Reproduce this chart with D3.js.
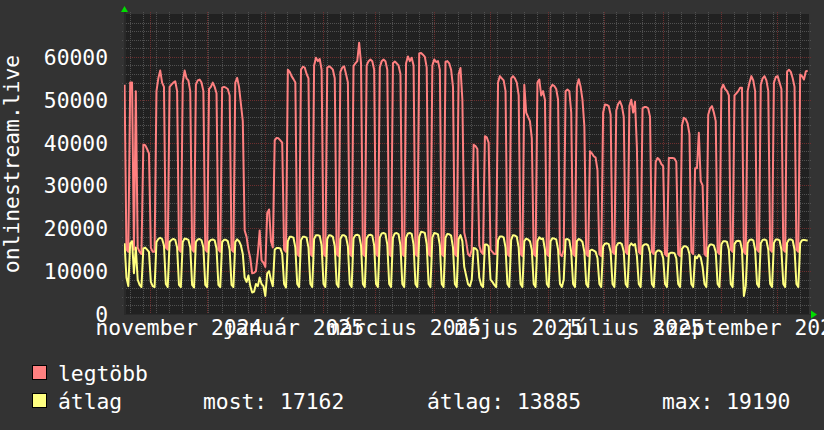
<!DOCTYPE html>
<html><head><meta charset="utf-8">
<script src="https://cdn.jsdelivr.net/npm/d3@7"></script>
<style>
html,body{margin:0;padding:0;background:#333333;}
svg{display:block;}
text{font-family:"DejaVu Sans Mono",monospace;}
</style></head><body>
<svg id="chart" width="824" height="430"></svg>
<script>
// ---- data (daily values, first day = 2024-10-18, one row per week Mon..Sun) ----
const firstDay = "2024-10-18";
const lastDay = "2025-10-18";
const legtobb = [
  53500, 15000, 14500,                              // Fri 18 Oct - Sun 20 Oct
  54000, 54000, 15000, 52000, 15500, 14500, 14000,  // 21 Oct
  39500, 39400, 38500, 37500, 15500, 14500, 14500,  // 28 Oct
  52000, 55000, 56800, 54000, 53000, 15500, 15000,  // 4 Nov
  53000, 53500, 54000, 54300, 52000, 15000, 14500,  // 11 Nov
  54000, 56800, 55000, 54500, 52000, 15000, 14500,  // 18 Nov
  53500, 54500, 54700, 54000, 52000, 15000, 14500,  // 25 Nov
  52500, 53000, 54000, 53000, 51500, 15000, 14500,  // 2 Dec
  52800, 53000, 52800, 52500, 51000, 15000, 14500,  // 9 Dec
  54000, 55100, 53000, 49000, 45000, 19500, 18000,  // 16 Dec
  15000, 13000,  9500,  9600, 10000, 14000, 19500,  // 23 Dec
  12500, 12000, 11000, 23500, 24400, 17000, 15500,  // 30 Dec
  40500, 41100, 41000, 40500, 40000, 15000, 14500,  // 6 Jan
  57000, 56500, 55500, 54800, 54000, 14000, 13500,  // 13 Jan
  57000, 57700, 57500, 56000, 55000, 14000, 13500,  // 20 Jan
  58000, 59800, 59000, 59500, 57000, 14000, 13500,  // 27 Jan
  57500, 57800, 57500, 57000, 55000, 14000, 13500,  // 3 Feb
  56500, 57500, 57800, 56000, 54000, 14000, 13500,  // 10 Feb
  57800, 58500, 59000, 63300, 58500, 14000, 13500,  // 17 Feb
  58000, 59000, 59400, 59000, 57000, 14000, 13500,  // 24 Feb
  57500, 59000, 59400, 59000, 57000, 14000, 13500,  // 3 Mar
  58500, 58900, 58500, 58000, 56000, 14000, 13500,  // 10 Mar
  58500, 60100, 59000, 59800, 58000, 14000, 13500,  // 17 Mar
  60800, 60900, 60500, 60000, 57500, 14000, 13500,  // 24 Mar
  58000, 59400, 58800, 59000, 57000, 14000, 13500,  // 31 Mar
  58800, 59000, 58500, 57000, 53000, 14000, 13500,  // 7 Apr
  56000, 57400, 50000, 19000, 17000, 14000, 13500,  // 14 Apr
  15000, 39500, 39200, 38500, 16000, 14500, 14000,  // 21 Apr
  41500, 41200, 40000, 15000, 14500, 14000, 14000,  // 28 Apr
  54000, 55500, 55000, 54500, 52000, 14000, 13500,  // 5 May
  55000, 55500, 55000, 54000, 51000, 14000, 13500,  // 12 May
  53500, 47000, 46000, 45000, 41000, 14000, 13500,  // 19 May
  54000, 54700, 51000, 52000, 50000, 14000, 13500,  // 26 May
  52800, 53500, 53200, 52500, 50000, 14000, 13500,  // 2 Jun
  15000, 52000, 52400, 52000, 47000, 14000, 13500,  // 9 Jun
  53000, 54800, 53000, 50000, 43800, 14000, 13500,  // 16 Jun
  38000, 37500, 36800, 36500, 33500, 14000, 13500,  // 23 Jun
  47000, 48900, 48800, 48500, 46500, 14500, 14000,  // 30 Jun
  47500, 49000, 49600, 48500, 46000, 14500, 14000,  // 7 Jul
  48500, 50000, 47000, 49500, 38800, 14500, 14000,  // 14 Jul
  48000, 48300, 48300, 48000, 46000, 14500, 14000,  // 21 Jul
  35500, 36400, 36000, 35000, 34500, 14000, 13500,  // 28 Jul
  36400, 36400, 36400, 36300, 35500, 14000, 13500,  // 4 Aug
  44000, 45800, 45500, 44500, 42000, 14500, 14000,  // 11 Aug
  34000, 34000, 42300, 31000, 30000, 14000, 13500,  // 18 Aug
  46500, 48000, 48500, 47000, 45000, 14500, 14000,  // 25 Aug
  52500, 53500, 52500, 52000, 51000, 15000, 14500,  // 1 Sep
  51000, 51500, 52000, 52800, 52800, 14500, 14000,  // 8 Sep
  52000, 54000, 55500, 54500, 52000, 15000, 14500,  // 15 Sep
  53500, 55000, 55500, 54500, 52000, 15000, 14500,  // 22 Sep
  54000, 55300, 55500, 54000, 52500, 15000, 14500,  // 29 Sep
  56500, 57000, 56500, 55000, 53000, 15000, 14500,  // 6 Oct
  55900, 55500, 54700, 56600, 56800                 // 13 Oct
];
const atlag = [
  16500,  8500,  6500,
  16500, 17000,  9500, 15500,  8000,  6800,  6300,
  15300, 15500, 15000, 14500,  7500,  6500,  6300,
  16800, 17500, 17800, 17500, 16000,  7000,  6300,
  16800, 17300, 17500, 17300, 15500,  6800,  6300,
  16800, 17600, 17500, 17300, 15500,  6800,  6200,
  16800, 17400, 17500, 17200, 15500,  6800,  6300,
  16800, 17300, 17400, 17200, 15300,  6800,  6300,
  16800, 17300, 17300, 17000, 15000,  6800,  6300,
  16800, 17400, 17000, 16000, 14000,  8500,  7500,
   9000,  6500,  5000,  5200,  7000,  6500,  8500,
   7000,  6500,  4200,  9500, 10000,  8000,  6500,
  15000, 15400, 15400, 15300, 14000,  7000,  6200,
  17000, 18000, 18000, 17800, 15500,  7000,  6300,
  17200, 18000, 18000, 17800, 15500,  7000,  6300,
  17500, 18400, 18400, 18200, 16000,  7000,  6300,
  17500, 18400, 18300, 18000, 15800,  7000,  6300,
  17500, 18400, 18400, 18000, 15800,  7000,  6300,
  17600, 18400, 18500, 18300, 16000,  7000,  6300,
  17600, 18400, 18500, 18300, 16000,  7000,  6300,
  17800, 18800, 18900, 18700, 16200,  7000,  6300,
  17800, 18800, 18900, 18600, 16000,  7000,  6300,
  17800, 18800, 18900, 18700, 16200,  7000,  6300,
  18000, 19190, 19100, 18900, 16300,  7000,  6300,
  17800, 18900, 18800, 18600, 16000,  7000,  6300,
  17800, 18700, 18600, 18300, 15500,  7000,  6300,
  17500, 18400, 17000, 11000,  9000,  7000,  6500,
   8000, 15400, 15300, 14800,  8500,  6800,  6300,
  16200, 16200, 15800,  8000,  7500,  6800,  6300,
  17200, 18100, 18100, 17900, 15500,  7000,  6300,
  17300, 18400, 18300, 18000, 15500,  7000,  6300,
  17000, 17600, 17400, 17000, 15000,  7000,  6300,
  17000, 17900, 17500, 17600, 15000,  7000,  6300,
  17000, 17700, 17600, 17400, 15000,  7000,  6300,
   8000, 17400, 17500, 17200, 14500,  7000,  6300,
  17000, 17500, 17300, 16800, 14500,  7000,  6300,
  14800, 15000, 14800, 14500, 13000,  7000,  6300,
  15800, 16400, 16500, 16300, 14500,  7000,  6300,
  15800, 16500, 16600, 16300, 14500,  7000,  6300,
  15800, 16500, 16000, 16300, 13500,  7000,  6300,
  15800, 16200, 16300, 16000, 14300,  7000,  6300,
  14300, 14800, 14800, 14500, 13000,  7000,  6300,
  14000, 14300, 14300, 14200, 13000,  7000,  6300,
  15200, 15800, 15800, 15500, 14000,  7000,  6300,
  13500, 13000, 13800, 13200, 11000,  7000,  6300,
  15500, 16200, 16200, 16000, 14500,  7000,  6300,
  16200, 17000, 17000, 16800, 15000,  7000,  6300,
  16300, 17000, 17100, 17000, 15000,  4200,  6500,
  16500, 17300, 17400, 17200, 15000,  7000,  6300,
  16500, 17300, 17400, 17200, 15000,  7000,  6300,
  16600, 17400, 17400, 17200, 15000,  7000,  6300,
  16600, 17400, 17400, 17200, 15000,  7000,  6300,
  16500, 17200, 17300, 17200, 17162
];
const yTickValues = [0, 10000, 20000, 30000, 40000, 50000, 60000];
const xLabelDates = ["2024-11-16", "2025-01-16", "2025-03-16", "2025-05-16", "2025-07-16", "2025-09-16"];
const xLabels = ["november 2024", "január 2025", "március 2025", "május 2025", "július 2025", "szeptember 2025"];
const seriesNames = ["legtöbb", "átlag"];
const seriesColors = ["#ff8080", "#ffff80"];
const statLabels = ["most: 17162", "átlag: 13885", "max: 19190"];
const yTitle = "onlinestream.live";

// ---- drawing ----
const parse = d3.timeParse("%Y-%m-%d");
const t0 = parse(firstDay), t1 = parse(lastDay);
const L = 124, R = 809, T = 14, B = 314;
const x = d3.scaleTime().domain([t0, t1]).range([L, R]);
const y = d3.scaleLinear().domain([0, 70000]).range([B, T]);
const svg = d3.select("#chart");
const FS = "21.33px";

svg.append("rect").attr("width", 824).attr("height", 430).attr("fill", "#333333");
svg.append("rect").attr("x", L).attr("y", T).attr("width", R - L).attr("height", B - T + 1).attr("fill", "#212121");

const grid = svg.append("g");
const minorCol = "#505050", majorCol = "#6c2f2f";
function hLine(v, col) {
  const yy = Math.round(y(v)) + 0.5;
  grid.append("line").attr("x1", L - 2).attr("x2", R + 2).attr("y1", yy).attr("y2", yy)
    .attr("stroke", col).attr("stroke-width", 1).attr("stroke-dasharray", "1,1");
}
function vLine(d, col) {
  const xx = Math.round(x(d)) + 0.5;
  grid.append("line").attr("x1", xx).attr("x2", xx).attr("y1", T - 2).attr("y2", B + 2)
    .attr("stroke", col).attr("stroke-width", 1).attr("stroke-dasharray", "1,1");
}
d3.range(2000, 70000, 2000).filter(v => v % 10000 !== 0).forEach(v => hLine(v, minorCol));
d3.timeMonday.range(t0, t1).forEach(d => vLine(d, minorCol));
yTickValues.filter(v => v > 0).forEach(v => hLine(v, majorCol));
d3.timeMonth.range(d3.timeDay.offset(t0, 1), t1).forEach(d => vLine(d, majorCol));

// axes lines
svg.append("line").attr("x1", L + 1).attr("x2", L + 1).attr("y1", T - 2).attr("y2", B + 1)
  .attr("stroke", "#2a2a2a").attr("stroke-width", 2);
svg.append("line").attr("x1", L).attr("x2", R + 3).attr("y1", B + 0.5).attr("y2", B + 0.5)
  .attr("stroke", "#2a2a2a").attr("stroke-width", 1);
// arrows
svg.append("path").attr("d", `M${L - 3},${T - 2} L${L + 0.5},${T - 8} L${L + 4},${T - 2} Z`).attr("fill", "#00dd00");
svg.append("path").attr("d", `M${R + 2},${B - 3.5} L${R + 8},${B + 0.5} L${R + 2},${B + 4.5} Z`).attr("fill", "#00dd00");

// series
const dayTime = i => new Date(+d3.timeDay.offset(t0, i) + 0.3 * 864e5);
const line = d3.line().x((d, i) => x(dayTime(i))).y(d => y(d)).curve(d3.curveLinear);
svg.append("defs").append("clipPath").attr("id", "clip")
  .append("rect").attr("x", L).attr("y", T - 2).attr("width", R - L).attr("height", B - T + 4);
[legtobb, atlag].forEach((s, k) => {
  svg.append("path").datum(s).attr("d", line).attr("fill", "none")
    .attr("stroke", seriesColors[k]).attr("stroke-width", 2).attr("stroke-linejoin", "round")
    .attr("clip-path", "url(#clip)");
});

// y axis labels
const yAxis = d3.axisLeft(y).tickValues(yTickValues).tickSize(0).tickPadding(16).tickFormat(d3.format("d"));
const gy = svg.append("g").attr("transform", `translate(${L},0)`).call(yAxis);
gy.select(".domain").remove();
gy.selectAll("text").attr("font-family", "DejaVu Sans Mono").attr("font-size", FS).attr("fill", "#ffffff").attr("dy", "7.5");

// x axis labels
const xDates = xLabelDates.map(parse);
const xAxis = d3.axisBottom(x).tickValues(xDates).tickSize(0).tickPadding(0).tickFormat((d, i) => xLabels[i]);
const gx = svg.append("g").attr("transform", `translate(0,${B})`).call(xAxis);
gx.select(".domain").remove();
gx.selectAll("text").attr("font-family", "DejaVu Sans Mono").attr("font-size", FS).attr("fill", "#ffffff").attr("dy", null).attr("y", 21);

// y title
svg.append("text").attr("transform", `translate(18.5,${(T + B) / 2}) rotate(-90)`)
  .attr("text-anchor", "middle").attr("font-size", FS).attr("fill", "#ffffff").text(yTitle);

// legend
const legY = [381, 409];
seriesNames.forEach((n, k) => {
  svg.append("rect").attr("x", 32.5).attr("y", legY[k] - 15.5).attr("width", 14).attr("height", 14)
    .attr("fill", seriesColors[k]).attr("stroke", "#000").attr("stroke-width", 1);
  svg.append("text").attr("x", 58).attr("y", legY[k]).attr("font-size", FS).attr("fill", "#ffffff").text(n);
});
const statX = [203, 427, 662];
statLabels.forEach((s, k) => {
  svg.append("text").attr("x", statX[k]).attr("y", legY[1]).attr("font-size", FS).attr("fill", "#ffffff").text(s);
});
</script>
</body></html>
